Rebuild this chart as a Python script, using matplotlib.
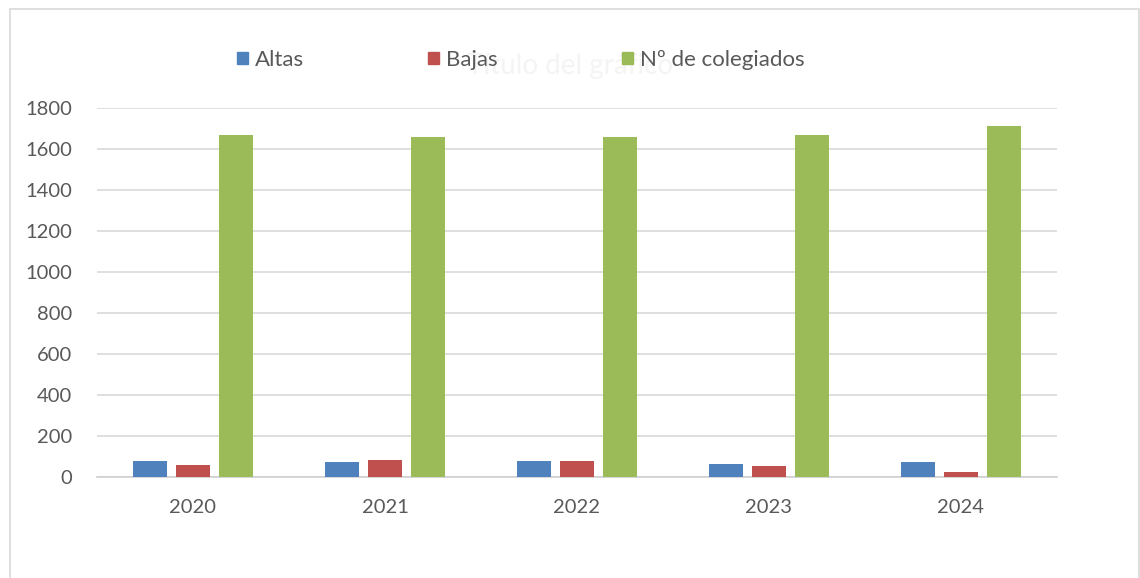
import numpy as np
import matplotlib.pyplot as plt
from matplotlib.patches import Rectangle, Patch

# datos
anios = ['2020', '2021', '2022', '2023', '2024']
altas = [78, 73, 78, 62, 73]
bajas = [59, 83, 77, 54, 26]
colegiados = [1668, 1660, 1660, 1668, 1714]

plt.rcParams['font.family'] = ['Lato', 'DejaVu Sans']
gris = '#595959'

fig = plt.figure(figsize=(11.4, 5.78), dpi=100)
W, H = 1140, 578
ax = fig.add_axes([97 / W, 1 - 477 / H, 960 / W, 369 / H])

# borde del área del gráfico
fig.patches.append(Rectangle((10 / W, -0.05), 1129 / W, 1.05 - 9 / H,
                             transform=fig.transFigure, fill=False,
                             edgecolor='#d9d9d9', linewidth=1.2))

x = np.arange(len(anios))
ancho = 0.172
paso = 0.224
ax.bar(x - paso, altas, ancho, color='#4F81BD', label='Altas', zorder=3)
ax.bar(x, bajas, ancho, color='#C0504D', label='Bajas', zorder=3)
ax.bar(x + paso, colegiados, ancho, color='#9BBB59', label='Nº de colegiados', zorder=3)

ax.set_xlim(-0.5, 4.5)
ax.set_ylim(0, 1800)
ax.set_yticks(range(0, 1801, 200))
ax.set_xticks(x)
ax.set_xticklabels(anios)
ax.grid(axis='y', color='#d9d9d9', linewidth=1.2, zorder=0)
for s in ['top', 'right', 'left']:
    ax.spines[s].set_visible(False)
ax.spines['bottom'].set_color('#d0d0d0')
ax.spines['bottom'].set_linewidth(1.2)
ax.tick_params(axis='both', length=0, labelsize=14.5, labelcolor=gris)
ax.tick_params(axis='y', pad=18)
ax.tick_params(axis='x', pad=16)

# título apenas visible detrás de la leyenda
fig.text(570 / W, 1 - 66 / H, 'Título del gráfico', ha='center', va='center',
         fontsize=20, color='#f4f4f4', zorder=0)

# leyenda con entradas separadas
colores = ['#4F81BD', '#C0504D', '#9BBB59']
nombres = ['Altas', 'Bajas', 'Nº de colegiados']
posx = [237, 428, 622]
for c, n, px in zip(colores, nombres, posx):
    fig.legend(handles=[Patch(color=c)], labels=[n], loc='center left',
               bbox_to_anchor=(px / W, 1 - 60 / H), frameon=False,
               fontsize=16, labelcolor=gris, handlelength=0.5,
               handleheight=0.5, handletextpad=0.3, borderpad=0,
               borderaxespad=0)

fig.savefig('out.png', dpi=100)
